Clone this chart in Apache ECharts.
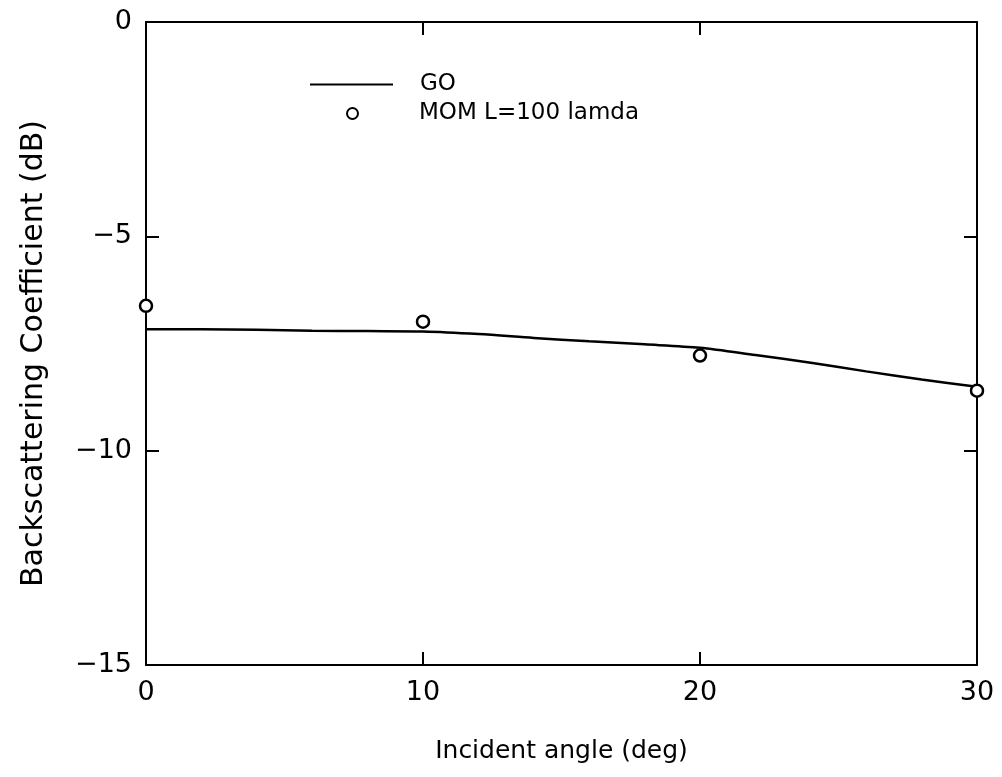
<!DOCTYPE html>
<html>
<head>
<meta charset="utf-8">
<script src="https://cdn.jsdelivr.net/npm/echarts@6/dist/echarts.min.js"></script>
<style>
html,body{margin:0;padding:0;background:#fff;}
#c{width:1002px;height:777px;}
</style>
</head>
<body>
<div id="c"></div>
<script>
// GO curve (incident angle deg, dB)
const goAngles = [0, 2, 4, 6, 8, 10, 12, 14, 16, 18, 20, 22, 24, 26, 28, 30];
const goValues = [-7.17, -7.17, -7.18, -7.20, -7.21, -7.22, -7.28, -7.37, -7.45, -7.52, -7.60, -7.77, -7.95, -8.15, -8.34, -8.51];
// MOM L=100 lamda points
const momAngles = [0, 10, 20, 30];
const momValues = [-6.62, -6.99, -7.78, -8.60];
// axis ticks
const xTicks = [0, 10, 20, 30];
const yTicks = [0, -5, -10, -15];

const FONT = 'DejaVu Sans';
const goData = goAngles.map((a, i) => [a, goValues[i]]);
const momData = momAngles.map((a, i) => [a, momValues[i]]);

const chart = echarts.init(document.getElementById('c'), null, {renderer: 'canvas'});
const axisLineStyle = {color: '#000', width: 2};
const tickStyle = {show: true, inside: true, length: 13, lineStyle: {color: '#000', width: 2}};

chart.setOption({
  animation: false,
  backgroundColor: '#fff',
  grid: {left: 146, top: 22, right: 25, bottom: 112, containLabel: false},
  legend: [
    {
      data: [{name: 'GO', icon: 'rect'}],
      left: 305, top: 68, orient: 'vertical',
      itemWidth: 83, itemHeight: 2,
      itemStyle: {color: '#000', borderWidth: 0},
      textStyle: {fontFamily: FONT, fontSize: 23, color: '#000', padding: [0, 0, 0, 22]},
      selectedMode: false
    },
    {
      data: [{name: 'MOM L=100 lamda', icon: 'circle'}],
      left: 341, top: 97, orient: 'vertical',
      itemWidth: 11, itemHeight: 11,
      itemStyle: {color: '#fff', borderColor: '#000', borderWidth: 2},
      textStyle: {fontFamily: FONT, fontSize: 23, color: '#000', padding: [0, 0, 0, 56]},
      selectedMode: false
    }
  ],
  xAxis: [
    {
      type: 'value', min: 0, max: 30, interval: 10,
      name: 'Incident angle (deg)', nameLocation: 'middle', nameGap: 74,
      nameTextStyle: {fontFamily: FONT, fontSize: 25, color: '#000'},
      axisLine: {show: true, onZero: false, lineStyle: axisLineStyle},
      axisTick: tickStyle,
      axisLabel: {fontFamily: FONT, fontSize: 27, color: '#000', margin: 14,
        formatter: v => xTicks.includes(v) ? String(v) : ''},
      splitLine: {show: false}
    },
    {
      type: 'value', min: 0, max: 30, interval: 10, position: 'top',
      axisLine: {show: true, onZero: false, lineStyle: axisLineStyle},
      axisTick: tickStyle,
      axisLabel: {show: false},
      splitLine: {show: false}
    }
  ],
  yAxis: [
    {
      type: 'value', min: -15, max: 0, interval: 5,
      name: 'Backscattering Coefficient (dB)', nameLocation: 'middle', nameGap: 97,
      nameTextStyle: {fontFamily: FONT, fontSize: 30, color: '#000', padding: [0, 20, 0, 0]},
      axisLine: {show: true, onZero: false, lineStyle: axisLineStyle},
      axisTick: tickStyle,
      axisLabel: {fontFamily: FONT, fontSize: 27, color: '#000', margin: 14,
        formatter: v => yTicks.includes(v) ? String(v).replace('-', '\u2212') : ''},
      splitLine: {show: false}
    },
    {
      type: 'value', min: -15, max: 0, interval: 5, position: 'right',
      axisLine: {show: true, onZero: false, lineStyle: axisLineStyle},
      axisTick: tickStyle,
      axisLabel: {show: false},
      splitLine: {show: false}
    }
  ],
  series: [
    {
      name: 'GO', type: 'line', data: goData, smooth: 0.3,
      showSymbol: false, symbol: 'none',
      lineStyle: {color: '#000', width: 2.5},
      itemStyle: {color: '#000'},
      z: 2
    },
    {
      name: 'MOM L=100 lamda', type: 'scatter', data: momData,
      symbol: 'circle', symbolSize: 12,
      itemStyle: {color: '#fff', borderColor: '#000', borderWidth: 2.5, opacity: 1},
      z: 3
    }
  ]
});
</script>
</body>
</html>
